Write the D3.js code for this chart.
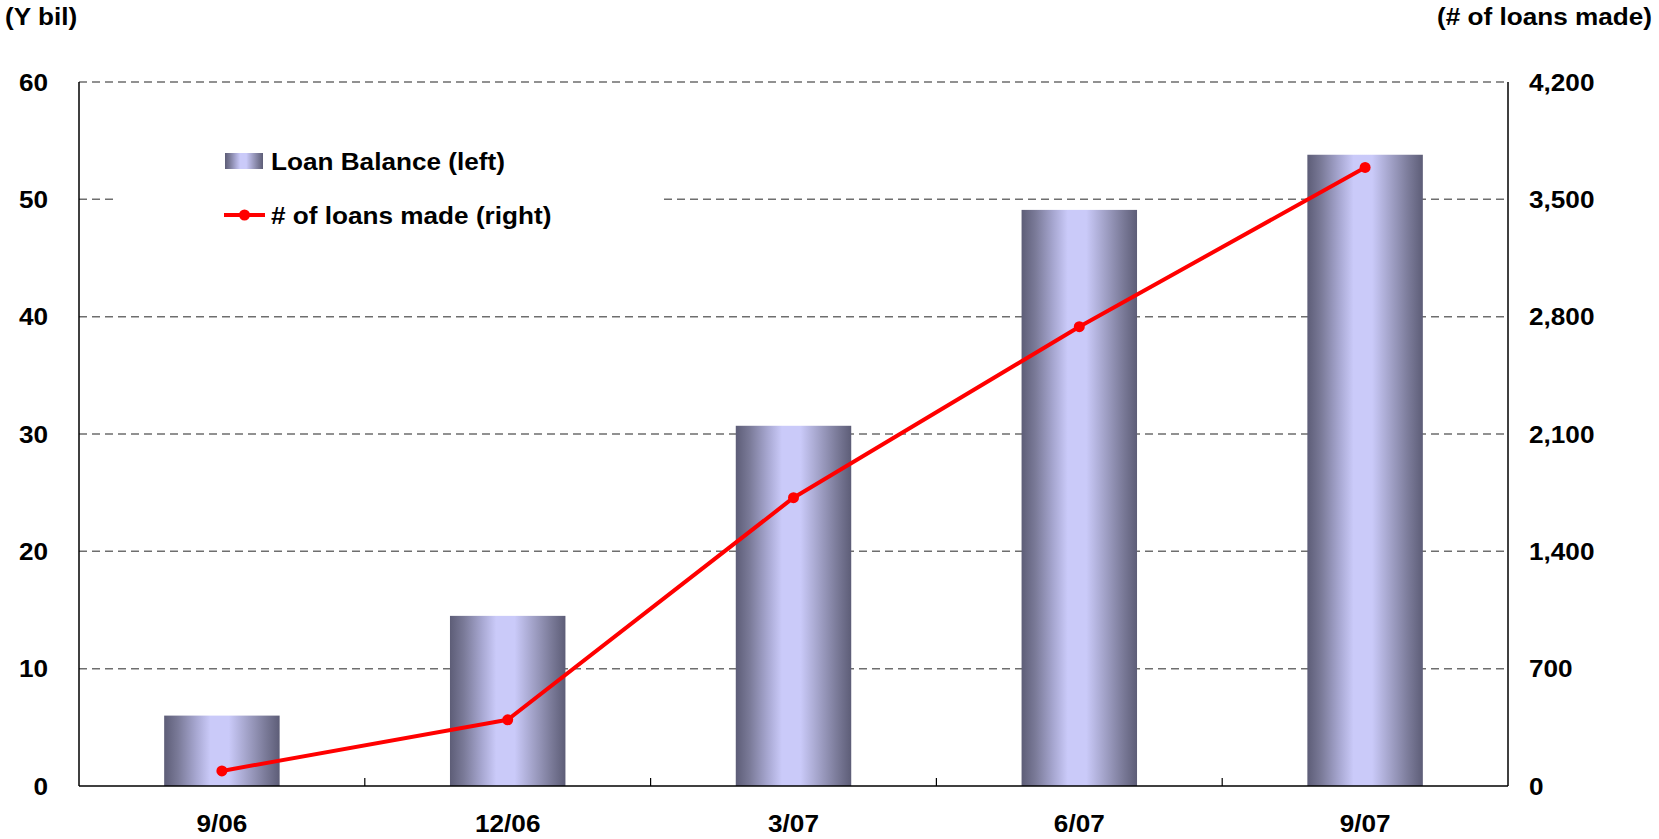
<!DOCTYPE html>
<html>
<head>
<meta charset="utf-8">
<script src="https://cdn.jsdelivr.net/npm/d3@7"></script>
<style>
  html, body { margin: 0; padding: 0; background: #fff; }
  svg { display: block; }
  text { font-family: "Liberation Sans", Arial, sans-serif; font-weight: bold; fill: #000; }
</style>
</head>
<body>
<svg id="chart" width="1659" height="839"></svg>
<script>
// Quarter-end periods
const periods = ["9/06", "12/06", "3/07", "6/07", "9/07"];
// Outstanding loan balance, Y bil (left axis)
const loanBalance = [6.0, 14.5, 30.7, 49.1, 53.8];
// Cumulative number of loans made (right axis)
const loansMade = [90, 395, 1720, 2740, 3690];
// Axis tick values
const leftTicks = [0, 10, 20, 30, 40, 50, 60];
const rightTicks = [0, 700, 1400, 2100, 2800, 3500, 4200];

const svg = d3.select("#chart");
const plot = { left: 79, right: 1508, top: 82, bottom: 786 };
const FONT = 24;
const WIDEN = 1.09; // slightly expanded lettering

// Places a label at (px, py) with the widened lettering
function place(sel, px, py) {
  return sel.attr("transform", (d, i) => {
    const X = typeof px === "function" ? px(d, i) : px;
    const Y = typeof py === "function" ? py(d, i) : py;
    return `translate(${X},${Y}) scale(${WIDEN},1)`;
  });
}

const x = d3.scaleBand()
  .domain(periods)
  .range([plot.left, plot.right])
  .paddingInner(0.596)
  .paddingOuter(0.298);

const yLeft = d3.scaleLinear().domain([0, 60]).range([plot.bottom, plot.top]);
const yRight = d3.scaleLinear().domain([0, 4200]).range([plot.bottom, plot.top]);

// Cylinder-like shading for the bars
const defs = svg.append("defs");
const grad = defs.append("linearGradient")
  .attr("id", "barShade")
  .attr("x1", "0%").attr("x2", "100%").attr("y1", "0%").attr("y2", "0%");
[
  ["0%", "#5d5d77"],
  ["12%", "#7a7a98"],
  ["28%", "#a8a8d2"],
  ["40%", "#cacaf9"],
  ["56%", "#cacaf9"],
  ["72%", "#a2a2c8"],
  ["88%", "#7a7a98"],
  ["100%", "#5d5d77"]
].forEach(([o, c]) => grad.append("stop").attr("offset", o).attr("stop-color", c));

// Dashed horizontal gridlines
svg.append("g")
  .selectAll("line")
  .data(leftTicks.filter(d => d > 0))
  .join("line")
  .attr("x1", plot.left).attr("x2", plot.right)
  .attr("y1", d => yLeft(d)).attr("y2", d => yLeft(d))
  .attr("stroke", "#6e6e6e")
  .attr("stroke-width", 1.5)
  .attr("stroke-dasharray", "8,5");

// Bars
svg.append("g")
  .selectAll("rect")
  .data(periods)
  .join("rect")
  .attr("x", d => x(d))
  .attr("width", x.bandwidth())
  .attr("y", (d, i) => yLeft(loanBalance[i]))
  .attr("height", (d, i) => yLeft(0) - yLeft(loanBalance[i]))
  .attr("fill", "url(#barShade)");

// Axis frame: left, right and bottom solid lines
const frame = svg.append("g").attr("stroke", "#000").attr("stroke-width", 1.5);
frame.append("line").attr("x1", plot.left).attr("x2", plot.left).attr("y1", plot.top).attr("y2", plot.bottom);
frame.append("line").attr("x1", plot.right).attr("x2", plot.right).attr("y1", plot.top).attr("y2", plot.bottom);
frame.append("line").attr("x1", plot.left).attr("x2", plot.right).attr("y1", plot.bottom).attr("y2", plot.bottom);

// Category divider ticks on the bottom axis
const step = x.step();
const dividers = d3.range(1, periods.length).map(i => plot.left + i * step);
svg.append("g")
  .selectAll("line")
  .data(dividers)
  .join("line")
  .attr("x1", d => d).attr("x2", d => d)
  .attr("y1", plot.bottom).attr("y2", plot.bottom - 8)
  .attr("stroke", "#000").attr("stroke-width", 1.2);

// Left axis labels
place(svg.append("g")
  .selectAll("text")
  .data(leftTicks)
  .join("text")
  .attr("dy", "0.36em")
  .attr("text-anchor", "end")
  .attr("font-size", FONT)
  .text(d => d3.format(",")(d)), 48, d => yLeft(d));

// Right axis labels
place(svg.append("g")
  .selectAll("text")
  .data(rightTicks)
  .join("text")
  .attr("dy", "0.36em")
  .attr("text-anchor", "start")
  .attr("font-size", FONT)
  .text(d => d3.format(",")(d)), 1529, d => yRight(d));

// Category labels
place(svg.append("g")
  .selectAll("text")
  .data(periods)
  .join("text")
  .attr("text-anchor", "middle")
  .attr("font-size", FONT)
  .text(d => d), d => x(d) + x.bandwidth() / 2, 832);

// Axis titles
place(svg.append("text").attr("font-size", FONT).text("(Y bil)"), 5, 25);
place(svg.append("text").attr("text-anchor", "end").attr("font-size", FONT).text("(# of loans made)"), 1652, 25);

// Loans-made line with markers
const cx = d => x(d) + x.bandwidth() / 2;
const line = d3.line().x(d => cx(d)).y((d, i) => yRight(loansMade[i]));
svg.append("path")
  .datum(periods)
  .attr("d", line)
  .attr("fill", "none")
  .attr("stroke", "#ff0000")
  .attr("stroke-width", 4)
  .attr("stroke-linejoin", "round");
svg.append("g")
  .selectAll("circle")
  .data(periods)
  .join("circle")
  .attr("cx", d => cx(d))
  .attr("cy", (d, i) => yRight(loansMade[i]))
  .attr("r", 5.5)
  .attr("fill", "#ff0000");

// Legend on a white panel
const legend = svg.append("g");
legend.append("rect").attr("x", 118).attr("y", 125).attr("width", 544).attr("height", 120).attr("fill", "#fff");
legend.append("rect").attr("x", 225).attr("y", 153).attr("width", 38).attr("height", 16).attr("fill", "url(#barShade)");
place(legend.append("text").attr("font-size", FONT).text("Loan Balance (left)"), 271, 170);
legend.append("line").attr("x1", 224).attr("x2", 265).attr("y1", 215).attr("y2", 215)
  .attr("stroke", "#ff0000").attr("stroke-width", 4);
legend.append("circle").attr("cx", 244.5).attr("cy", 215).attr("r", 5.5).attr("fill", "#ff0000");
place(legend.append("text").attr("font-size", FONT).text("# of loans made (right)"), 271, 224);
</script>
</body>
</html>
